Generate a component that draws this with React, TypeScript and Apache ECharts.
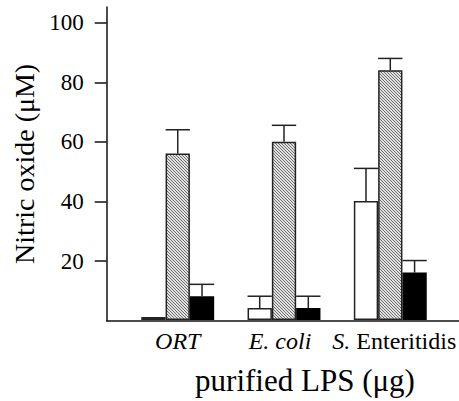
import React, { useEffect, useRef } from 'react';
import * as echarts from 'echarts';

const categories = ['ORT', 'E. coli', 'S. Enteritidis'];
const whiteValues = [1, 4, 40];
const hatchedValues = [56, 60, 84];
const blackValues = [8, 4, 16];
const whiteUpper: (number | null)[] = [null, 8, 51];
const hatchedUpper: (number | null)[] = [64, 65.5, 88];
const blackUpper: (number | null)[] = [12, 8, 20];
const yTickValues = [20, 40, 60, 80, 100];
const Y_MIN = 0;
const Y_MAX = 105.3;

const FONT = '"Liberation Serif", "Times New Roman", serif';
const BAR_W = 24.3;

function makeHatch(): HTMLCanvasElement {
  const c = document.createElement('canvas');
  c.width = 3;
  c.height = 3;
  const ctx = c.getContext('2d')!;
  ctx.fillStyle = '#e2e2e2';
  ctx.fillRect(0, 0, 3, 3);
  ctx.fillStyle = '#6c6c6c';
  for (let i = 0; i < 3; i++) ctx.fillRect(i, i, 1, 1);
  return c;
}

export default function App() {
  const ref = useRef<HTMLDivElement>(null);
  useEffect(() => {
    if (!ref.current) return;
    const chart = echarts.init(ref.current, null, { renderer: 'svg' });
    const hatch = makeHatch();
    const errRows: number[][] = [];
    const uppers = [whiteUpper, hatchedUpper, blackUpper];
    const means = [whiteValues, hatchedValues, blackValues];
    uppers.forEach((arr, k) => {
      arr.forEach((u, i) => {
        if (u != null) errRows.push([i, k, means[k][i], u]);
      });
    });
    const axisColor = '#111';
    chart.setOption({
      animation: false,
      grid: [
        { left: 106.7, right: 0, top: 7, bottom: 80.3 },
        { left: 124.6, right: 13.9, top: 7, bottom: 80.3 },
      ],
      xAxis: [
        {
          gridIndex: 0,
          type: 'category',
          data: [''],
          axisLine: { show: true, lineStyle: { color: axisColor, width: 1.5 } },
          axisTick: { show: false },
          axisLabel: { show: false },
        },
        {
          gridIndex: 1,
          type: 'category',
          data: categories,
          axisLine: { show: false },
          axisTick: { show: false },
          axisLabel: {
            interval: 0,
            hideOverlap: false,
            margin: 9,
            color: '#000',
            fontFamily: FONT,
            fontSize: 24,
            formatter: (v: string) =>
              v === 'S. Enteritidis'
                ? '{sp|}{i|S.}{n| Enteritidis}'
                : v === 'E. coli'
                ? '{i|E. coli}{sp|}'
                : '{i|' + v + '}',
            rich: {
              i: { fontStyle: 'italic', fontFamily: FONT, fontSize: 24, color: '#000' },
              n: { fontFamily: FONT, fontSize: 24, color: '#000' },
              sp: { width: 8 },
            },
          },
          name: 'purified LPS (μg)',
          nameLocation: 'middle',
          nameGap: 45,
          nameTextStyle: { color: '#000', fontFamily: FONT, fontSize: 31, padding: [0, 0, 0, 42] },
        },
      ],
      yAxis: [
        {
          gridIndex: 0,
          type: 'value',
          min: Y_MIN,
          max: Y_MAX,
          splitLine: { show: false },
          axisLine: { show: true, lineStyle: { color: axisColor, width: 1.5 } },
          axisTick: { show: true, length: 12, customValues: yTickValues, lineStyle: { color: axisColor, width: 1.5 } },
          axisLabel: { margin: 23, color: '#000', fontFamily: FONT, fontSize: 23, customValues: yTickValues },
          name: 'Nitric oxide (μM)',
          nameLocation: 'middle',
          nameGap: 62,
          nameRotate: 90,
          nameTextStyle: { color: '#000', fontFamily: FONT, fontSize: 28 },
        },
        {
          gridIndex: 1,
          type: 'value',
          min: Y_MIN,
          max: Y_MAX,
          show: false,
          splitLine: { show: false },
        },
      ],
      series: [
        {
          type: 'bar',
          name: 'white',
          xAxisIndex: 1,
          yAxisIndex: 1,
          data: whiteValues,
          barWidth: BAR_W,
          barGap: '0%',
          itemStyle: { color: '#ffffff', borderColor: '#222', borderWidth: 1.5 },
        },
        {
          type: 'bar',
          name: 'hatched',
          xAxisIndex: 1,
          yAxisIndex: 1,
          data: hatchedValues,
          barWidth: BAR_W,
          barGap: '0%',
          itemStyle: { color: { image: hatch, repeat: 'repeat' }, borderColor: '#222', borderWidth: 1.5 },
        },
        {
          type: 'bar',
          name: 'black',
          xAxisIndex: 1,
          yAxisIndex: 1,
          data: blackValues,
          barWidth: BAR_W,
          barGap: '0%',
          itemStyle: { color: '#000000', borderColor: '#000', borderWidth: 1.5 },
        },
        {
          type: 'custom',
          name: 'error',
          xAxisIndex: 1,
          yAxisIndex: 1,
          data: errRows,
          encode: { x: 0, y: [2, 3] },
          z: 1,
          renderItem: (params: any, api: any) => {
            const cat = api.value(0);
            const k = api.value(1);
            const mean = api.value(2);
            const upper = api.value(3);
            const base = api.coord([cat, mean]);
            const top = api.coord([cat, upper]);
            const x = base[0] + (k - 1) * BAR_W;
            const st = { stroke: '#222', lineWidth: 1.5 };
            return {
              type: 'group',
              children: [
                { type: 'line', shape: { x1: x, y1: base[1], x2: x, y2: top[1] }, style: st },
                { type: 'line', shape: { x1: x - BAR_W / 2, y1: top[1], x2: x + BAR_W / 2, y2: top[1] }, style: st },
              ],
            };
          },
        },
      ],
    });
    return () => chart.dispose();
  }, []);
  return (
    <div
      ref={ref}
      style={{ position: 'fixed', left: 0, top: 0, width: 459, height: 401, background: '#fff' }}
    />
  );
}
